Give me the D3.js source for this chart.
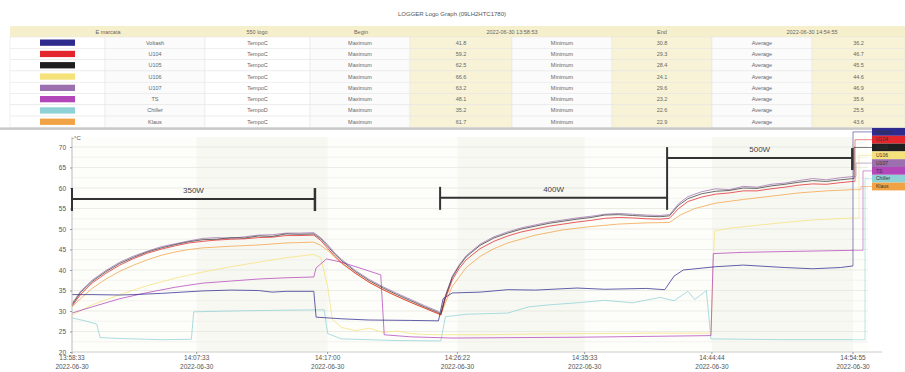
<!DOCTYPE html>
<html>
<head>
<meta charset="utf-8">
<script src="https://cdn.jsdelivr.net/npm/d3@7"></script>
<style>
  body { margin: 0; background: #fff; }
  svg { display: block; font-family: "Liberation Sans", Arial, sans-serif; }
</style>
</head>
<body>
<div id="chart"></div>
<script>
// ---- data ----
const chartTitle = 'LOGGER Logo Graph (09LH2HTC1780)';
const headerLabels = ['E marcata', '550 logo', 'Begin', '2022-06-30 13:58:53', 'End', '2022-06-30 14:54:55'];
const seriesNames = ['Voltash', 'U104', 'U105', 'U106', 'U107', 'TS', 'Chiller', 'Klaus'];
const seriesUnits = ['TempoC', 'TempoC', 'TempoC', 'TempoC', 'TempoC', 'TempoC', 'TempoD', 'TempoC'];
const maxValues = ['41.8', '59.2', '62.5', '66.6', '63.2', '48.1', '35.2', '61.7'];
const minValues = ['30.8', '29.3', '28.4', '24.1', '29.6', '23.2', '22.6', '22.9'];
const avgValues = ['36.2', '46.7', '45.5', '44.6', '46.9', '35.6', '25.5', '43.6'];
const seriesColors = ['#2f2b8e', '#e3262b', '#1f1f1f', '#f6e27a', '#9c70ae', '#b346b9', '#8fd2d5', '#f1a244'];

const dateDay = '2022-06-30';
const xTickTimes = ['13:58:33', '14:07:33', '14:17:00', '14:26:22', '14:35:33', '14:44:44', '14:54:55'];
const yTickValues = [20, 25, 30, 35, 40, 45, 50, 55, 60, 65, 70];

const powerLabels = ['350W', '400W', '500W'];
const powerStarts = ['13:58:33', '14:25:07', '14:41:30'];
const powerEnds = ['14:16:05', '14:41:30', '14:54:52'];
const powerLevels = [57.3, 57.6, 67.3];

const navyData = [
  ['13:58:33', 34.0], ['14:00:00', 34.0], ['14:02:00', 33.9], ['14:03:00', 34.0], ['14:05:00', 34.3],
  ['14:07:00', 34.7], ['14:08:00', 34.9], ['14:10:00', 35.1], ['14:12:00', 35.0], ['14:13:00', 34.6],
  ['14:14:00', 34.8], ['14:16:00', 34.8], ['14:16:10', 28.5], ['14:18:00', 28.1], ['14:20:00', 27.8],
  ['14:23:00', 27.7], ['14:25:00', 27.6], ['14:25:20', 33.0], ['14:26:00', 34.4], ['14:28:00', 34.6],
  ['14:30:00', 35.2], ['14:32:00', 35.1], ['14:35:00', 35.6], ['14:37:00', 35.3], ['14:40:00', 35.5],
  ['14:41:20', 35.2], ['14:42:00', 38.5], ['14:42:40', 40.0], ['14:45:00', 40.8], ['14:47:00', 41.2],
  ['14:50:00', 40.6], ['14:52:00', 40.3], ['14:54:00', 40.6], ['14:54:55', 41.0]
];
const redData = [
  ['13:58:33', 31.2], ['13:59:10', 34.0], ['14:00:00', 36.8], ['14:01:00', 39.2], ['14:02:00', 41.2],
  ['14:03:00', 42.8], ['14:04:00', 44.1], ['14:05:00', 45.1], ['14:06:00', 45.9], ['14:07:00', 46.6],
  ['14:08:00', 47.0], ['14:09:00', 47.3], ['14:10:00', 47.5], ['14:11:00', 47.6], ['14:12:00', 47.9],
  ['14:13:00', 48.0], ['14:14:00', 48.4], ['14:15:00', 48.4], ['14:16:00', 48.5], ['14:16:30', 47.2],
  ['14:17:00', 45.3], ['14:17:30', 43.4], ['14:18:00', 41.8], ['14:19:00', 39.2], ['14:20:00', 37.0],
  ['14:21:00', 35.2], ['14:22:00', 33.6], ['14:23:00', 32.1], ['14:24:00', 30.7], ['14:25:00', 29.3],
  ['14:25:10', 29.0], ['14:25:30', 33.0], ['14:26:00', 37.6], ['14:26:30', 40.4], ['14:27:00', 42.5],
  ['14:28:00', 45.2], ['14:29:00', 47.0], ['14:30:00', 48.3], ['14:31:00', 49.3], ['14:32:00', 50.0],
  ['14:33:00', 50.7], ['14:34:00', 51.2], ['14:35:00', 51.7], ['14:36:00', 52.1], ['14:37:00', 52.6],
  ['14:38:00', 52.8], ['14:39:00', 52.7], ['14:40:00', 52.5], ['14:41:00', 52.4], ['14:41:40', 52.6],
  ['14:42:20', 55.0], ['14:43:00', 56.7], ['14:44:00', 57.8], ['14:45:00', 58.5], ['14:46:00', 58.8],
  ['14:47:00', 59.3], ['14:48:00', 59.3], ['14:49:00', 59.8], ['14:50:00', 60.2], ['14:51:00', 60.7],
  ['14:52:00', 61.0], ['14:53:00', 60.9], ['14:54:00', 61.3], ['14:54:55', 61.6]
];
const blackData = [
  ['13:58:33', 31.5], ['13:59:10', 34.5], ['14:00:00', 37.2], ['14:01:00', 39.6], ['14:02:00', 41.6],
  ['14:03:00', 43.1], ['14:04:00', 44.4], ['14:05:00', 45.4], ['14:06:00', 46.2], ['14:07:00', 46.9],
  ['14:08:00', 47.4], ['14:09:00', 47.5], ['14:10:00', 47.9], ['14:11:00', 47.8], ['14:12:00', 48.3],
  ['14:13:00', 48.2], ['14:14:00', 48.8], ['14:15:00', 48.7], ['14:16:00', 48.8], ['14:16:30', 47.6],
  ['14:17:00', 45.8], ['14:17:30', 43.9], ['14:18:00', 42.3], ['14:19:00', 39.6], ['14:20:00', 37.4],
  ['14:21:00', 35.6], ['14:22:00', 34.0], ['14:23:00', 32.5], ['14:24:00', 31.0], ['14:25:00', 29.6],
  ['14:25:10', 29.2], ['14:25:30', 33.5], ['14:26:00', 38.2], ['14:26:30', 41.0], ['14:27:00', 43.2],
  ['14:28:00', 46.0], ['14:29:00', 47.8], ['14:30:00', 49.0], ['14:31:00', 50.0], ['14:32:00', 50.7],
  ['14:33:00', 51.4], ['14:34:00', 51.9], ['14:35:00', 52.4], ['14:36:00', 52.8], ['14:37:00', 53.4],
  ['14:38:00', 53.5], ['14:39:00', 53.3], ['14:40:00', 53.1], ['14:41:00', 53.0], ['14:41:40', 53.2],
  ['14:42:20', 55.8], ['14:43:00', 57.4], ['14:44:00', 58.6], ['14:45:00', 59.2], ['14:46:00', 59.4],
  ['14:47:00', 60.0], ['14:48:00', 59.9], ['14:49:00', 60.5], ['14:50:00', 60.9], ['14:51:00', 61.4],
  ['14:52:00', 61.8], ['14:53:00', 61.6], ['14:54:00', 62.0], ['14:54:55', 62.3]
];
const yellowData = [
  ['13:58:33', 29.0], ['14:00:00', 31.5], ['14:02:00', 34.0], ['14:04:00', 36.2], ['14:06:00', 38.0],
  ['14:08:00', 39.5], ['14:10:00', 40.8], ['14:12:00', 41.9], ['14:14:00', 43.0], ['14:16:00', 43.8],
  ['14:16:30', 43.0], ['14:17:00', 36.0], ['14:17:20', 28.0], ['14:18:00', 26.0], ['14:19:00', 25.2],
  ['14:20:00', 25.8], ['14:21:00', 24.8], ['14:22:00', 25.1], ['14:23:00', 24.5], ['14:24:00', 24.3],
  ['14:25:00', 24.2], ['14:28:00', 24.2], ['14:32:00', 24.4], ['14:36:00', 24.5], ['14:40:00', 24.6],
  ['14:44:40', 24.6], ['14:44:55', 49.5], ['14:46:00', 50.2], ['14:48:00', 50.9], ['14:50:00', 51.6],
  ['14:52:00', 52.2], ['14:54:55', 52.7]
];
const mauveData = [
  ['13:58:33', 31.8], ['13:59:10', 34.8], ['14:00:00', 37.5], ['14:01:00', 39.9], ['14:02:00', 41.9],
  ['14:03:00', 43.4], ['14:04:00', 44.6], ['14:05:00', 45.7], ['14:06:00', 46.4], ['14:07:00', 47.1],
  ['14:08:00', 47.7], ['14:09:00', 47.9], ['14:10:00', 47.7], ['14:11:00', 48.1], ['14:12:00', 48.5],
  ['14:13:00', 48.6], ['14:14:00', 49.0], ['14:15:00', 49.0], ['14:16:00', 49.1], ['14:16:30', 47.9],
  ['14:17:00', 46.2], ['14:17:30', 44.2], ['14:18:00', 42.6], ['14:19:00', 39.9], ['14:20:00', 37.7],
  ['14:21:00', 35.9], ['14:22:00', 34.3], ['14:23:00', 32.8], ['14:24:00', 31.3], ['14:25:00', 29.9],
  ['14:25:10', 29.5], ['14:25:30', 33.8], ['14:26:00', 38.5], ['14:26:30', 41.3], ['14:27:00', 43.5],
  ['14:28:00', 46.3], ['14:29:00', 48.1], ['14:30:00', 49.3], ['14:31:00', 50.3], ['14:32:00', 51.0],
  ['14:33:00', 51.7], ['14:34:00', 52.2], ['14:35:00', 52.7], ['14:36:00', 53.1], ['14:37:00', 53.6],
  ['14:38:00', 53.8], ['14:39:00', 53.6], ['14:40:00', 53.4], ['14:41:00', 53.3], ['14:41:40', 53.5],
  ['14:42:20', 56.2], ['14:43:00', 57.9], ['14:44:00', 59.1], ['14:45:00', 59.8], ['14:46:00', 59.6],
  ['14:47:00', 60.4], ['14:48:00', 60.2], ['14:49:00', 60.9], ['14:50:00', 61.2], ['14:51:00', 61.8],
  ['14:52:00', 62.3], ['14:53:00', 62.0], ['14:54:00', 62.5], ['14:54:55', 62.8]
];
const magentaData = [
  ['13:58:33', 29.5], ['14:00:00', 31.0], ['14:02:00', 33.0], ['14:04:00', 34.5], ['14:06:00', 35.8],
  ['14:08:00', 36.8], ['14:10:00', 37.3], ['14:12:00', 37.8], ['14:14:00', 38.1], ['14:16:00', 38.3],
  ['14:16:10', 40.5], ['14:16:55', 42.7], ['14:18:00', 41.9], ['14:19:30', 40.3], ['14:20:50', 38.8],
  ['14:21:05', 24.2], ['14:23:00', 23.7], ['14:26:00', 23.4], ['14:30:00', 23.5], ['14:35:00', 23.6],
  ['14:40:00', 23.8], ['14:44:40', 24.0], ['14:44:50', 44.0], ['14:47:00', 44.3], ['14:50:00', 44.5],
  ['14:54:55', 44.8]
];
const cyanData = [
  ['13:58:33', 28.3], ['13:59:30', 27.6], ['14:00:20', 26.8], ['14:00:35', 23.5], ['14:02:00', 23.3],
  ['14:05:00', 23.0], ['14:07:10', 23.1], ['14:07:20', 29.8], ['14:10:00', 30.0], ['14:14:00', 30.2],
  ['14:16:45', 30.3], ['14:17:00', 24.5], ['14:18:00', 23.2], ['14:22:00', 22.8], ['14:25:10', 22.7],
  ['14:25:30', 28.6], ['14:27:00', 29.2], ['14:30:00', 29.5], ['14:31:30', 31.0], ['14:33:00', 31.5],
  ['14:35:00', 32.0], ['14:37:00', 32.6], ['14:39:00', 32.0], ['14:41:00', 33.3], ['14:42:00', 32.5],
  ['14:43:00', 34.8], ['14:43:30', 32.8], ['14:44:20', 35.0], ['14:44:40', 23.2], ['14:50:00', 23.0],
  ['14:54:55', 23.0]
];
const orangeData = [
  ['13:58:33', 31.0], ['13:59:10', 33.0], ['14:00:00', 35.5], ['14:01:00', 37.8], ['14:02:00', 39.7],
  ['14:03:00', 41.2], ['14:04:00', 42.5], ['14:05:00', 43.6], ['14:06:00', 44.4], ['14:07:00', 45.0],
  ['14:08:00', 45.4], ['14:10:00', 45.8], ['14:12:00', 46.1], ['14:14:00', 46.6], ['14:16:00', 46.8],
  ['14:16:30', 46.0], ['14:17:00', 44.8], ['14:18:00', 41.6], ['14:19:00', 39.2], ['14:20:00', 37.0],
  ['14:21:00', 35.2], ['14:22:00', 33.6], ['14:23:00', 32.1], ['14:24:00', 30.7], ['14:25:00', 29.3],
  ['14:25:10', 29.0], ['14:25:30', 32.0], ['14:26:00', 36.0], ['14:27:00', 40.6], ['14:28:00', 43.3],
  ['14:29:00', 45.2], ['14:30:00', 46.6], ['14:32:00', 48.5], ['14:34:00', 49.8], ['14:36:00', 50.6],
  ['14:38:00', 51.2], ['14:40:00', 51.5], ['14:41:40', 51.6], ['14:42:30', 53.5], ['14:43:30', 55.0],
  ['14:45:00', 56.3], ['14:47:00', 57.2], ['14:49:00', 58.0], ['14:51:00', 58.8], ['14:53:00', 59.3],
  ['14:54:55', 59.6]
];
const seriesData = [navyData, redData, blackData, yellowData, mauveData, magentaData, cyanData, orangeData];

// ---- drawing ----
const width = 905, height = 372;
const parseTime = d3.timeParse('%Y-%m-%d %H:%M:%S');
const toDate = t => parseTime(`${dateDay} ${t}`);

const svg = d3.select('#chart').append('svg')
    .attr('width', width)
    .attr('height', height);

svg.append('text')
    .attr('x', 452).attr('y', 16)
    .attr('text-anchor', 'middle')
    .style('font-size', '6px').style('fill', '#555')
    .text(chartTitle);

// table
const colEdges = [10, 105, 205, 310, 410, 512, 612, 712, 812, 905];
const colFill = ['#fff', '#fbfbfb', '#fff', '#fbfbfb', '#f8f3d6', '#fbfbfb', '#f8f3d6', '#fbfbfb', '#f8f3d6'];
const tableTop = 26, headerH = 11, rowH = 11.3;
const table = svg.append('g').classed('table', true);
table.append('rect')
    .attr('x', colEdges[0]).attr('y', tableTop)
    .attr('width', colEdges[9] - colEdges[0]).attr('height', headerH)
    .style('fill', '#f6efcc');
seriesNames.forEach((name, i) => {
    const y0 = tableTop + headerH + i * rowH;
    colFill.forEach((f, c) => {
        table.append('rect')
            .attr('x', colEdges[c]).attr('y', y0)
            .attr('width', colEdges[c + 1] - colEdges[c]).attr('height', rowH)
            .style('fill', f).style('stroke', '#e4e4e4').style('stroke-width', 0.5);
    });
    table.append('rect')
        .attr('x', 40).attr('y', y0 + 2.5)
        .attr('width', 35).attr('height', rowH - 5)
        .style('fill', seriesColors[i]);
    const cells = [[1, name], [2, seriesUnits[i]], [3, 'Maximum'], [4, maxValues[i]],
        [5, 'Minimum'], [6, minValues[i]], [7, 'Average'], [8, avgValues[i]]];
    cells.forEach(([c, txt]) => {
        table.append('text')
            .attr('x', (colEdges[c] + colEdges[c + 1]) / 2)
            .attr('y', y0 + rowH / 2 + 2)
            .attr('text-anchor', 'middle')
            .style('font-size', '5.5px').style('fill', '#666')
            .text(txt);
    });
});
const headerX = [108, 257, 361, 512, 662, 812];
headerLabels.forEach((h, i) => {
    table.append('text')
        .attr('x', headerX[i]).attr('y', tableTop + 7.5)
        .attr('text-anchor', 'middle')
        .style('font-size', '5.5px').style('fill', '#666')
        .text(h);
});
const tableBottom = tableTop + headerH + seriesNames.length * rowH;
table.append('rect')
    .attr('x', 0).attr('y', tableBottom)
    .attr('width', width).attr('height', 2.5)
    .style('fill', '#c9c9c9');

// plot
const x = d3.scaleTime()
    .domain([toDate(xTickTimes[0]), toDate(xTickTimes[xTickTimes.length - 1])])
    .range([72, 853]);
const y = d3.scaleLinear().domain([20, 70]).range([352, 147]);
const plotRight = 868, plotTop = 137;

const plot = svg.append('g').classed('plot', true);
plot.append('rect')
    .attr('x', 72).attr('y', plotTop)
    .attr('width', plotRight - 72).attr('height', y(20) - plotTop)
    .style('fill', '#fdfdfa');
const tickDates = xTickTimes.map(toDate);
tickDates.slice(0, -1).forEach((d, i) => {
    if (i % 2 === 1) {
        plot.append('rect')
            .attr('x', x(d)).attr('y', plotTop)
            .attr('width', x(tickDates[i + 1]) - x(d)).attr('height', y(20) - plotTop)
            .style('fill', '#f8f8f3');
    }
});
plot.selectAll('.grid')
    .data(d3.range(22.5, 71, 2.5))
    .enter().append('line')
    .classed('grid', true)
    .attr('x1', 72).attr('x2', plotRight)
    .attr('y1', d => y(d)).attr('y2', d => y(d))
    .style('stroke', d => d % 5 === 0 ? '#e4e4dc' : '#eeeee8')
    .style('stroke-width', 0.7);

// y axis
const yAxis = svg.append('g')
    .attr('transform', 'translate(72,0)')
    .call(d3.axisLeft(y).tickValues(yTickValues).tickSize(2).tickPadding(4));
yAxis.select('.domain').attr('d', `M0,${plotTop}V${y(20)}`).style('stroke', '#bbb');
yAxis.selectAll('.tick line').style('stroke', '#999');
yAxis.selectAll('text').style('font-size', '6.5px').style('fill', '#555')
    .style('font-family', '"Liberation Sans", Arial, sans-serif');
svg.append('text')
    .attr('x', 72).attr('y', 140)
    .style('font-size', '6px').style('fill', '#555')
    .text('-°C');

// x axis
svg.append('line')
    .attr('x1', 72).attr('x2', 882)
    .attr('y1', y(20)).attr('y2', y(20))
    .style('stroke', '#ccc');
const xt = svg.selectAll('.xtick')
    .data(xTickTimes)
    .enter().append('g')
    .classed('xtick', true)
    .attr('transform', d => `translate(${x(toDate(d))},${y(20)})`);
xt.append('line').attr('y2', 2).style('stroke', '#999');
const xl = xt.append('text')
    .attr('text-anchor', 'middle')
    .style('font-size', '6.5px').style('fill', '#555');
xl.append('tspan').attr('x', 0).attr('y', 8).text(d => d);
xl.append('tspan').attr('x', 0).attr('y', 17).text(dateDay);

// series
const line = d3.line()
    .x(d => x(toDate(d[0])))
    .y(d => y(d[1]));
const drawOrder = [6, 3, 7, 5, 0, 4, 1, 2];
drawOrder.forEach(i => {
    plot.append('path')
        .attr('d', line(seriesData[i]))
        .style('fill', 'none')
        .style('stroke', seriesColors[i])
        .style('stroke-width', 1)
        .style('stroke-opacity', i === 2 ? 0.65 : 0.75);
});

// legend at the right, with connectors from the series ends
const legendX = 872, legendTop = 128, legendRowH = 7.8;
const connectorOffsets = [0, 2, 1, 6, 3, 10, 12, 8];
seriesData.forEach((data, i) => {
    const last = data[data.length - 1];
    const x0 = x(toDate(last[0])), y0 = y(last[1]);
    const ry = legendTop + legendRowH * (i + 0.5);
    const xc = x0 + connectorOffsets[i];
    plot.append('path')
        .attr('d', `M${x0},${y0}H${xc}V${ry}H${legendX}`)
        .style('fill', 'none')
        .style('stroke', seriesColors[i])
        .style('stroke-width', 0.8)
        .style('stroke-opacity', 0.7);
});
const legend = svg.append('g').classed('legend', true);
seriesNames.forEach((name, i) => {
    legend.append('rect')
        .attr('x', legendX).attr('y', legendTop + legendRowH * i)
        .attr('width', width - legendX).attr('height', legendRowH)
        .style('fill', seriesColors[i]);
    legend.append('text')
        .attr('x', legendX + 4).attr('y', legendTop + legendRowH * i + 5.5)
        .style('font-size', '5px').style('fill', '#333')
        .text(name);
});

// power brackets
const bracket = svg.append('g').classed('brackets', true);
powerLabels.forEach((lab, i) => {
    const xa = x(toDate(powerStarts[i])), xb = x(toDate(powerEnds[i]));
    const yb = y(powerLevels[i]);
    const capA = i === 2 ? [yb - 11, y(powerLevels[1]) + 12] : [yb - 11, yb + 12];
    const capB = i === 1 ? null : (i === 2 ? [yb - 10, yb + 12] : [yb - 11, yb + 12]);
    bracket.append('line')
        .attr('x1', xa).attr('x2', xb).attr('y1', yb).attr('y2', yb)
        .style('stroke', '#333').style('stroke-width', 2);
    bracket.append('line')
        .attr('x1', xa).attr('x2', xa).attr('y1', capA[0]).attr('y2', capA[1])
        .style('stroke', '#333').style('stroke-width', 2);
    if (capB) {
        bracket.append('line')
            .attr('x1', xb).attr('x2', xb).attr('y1', capB[0]).attr('y2', capB[1])
            .style('stroke', '#333').style('stroke-width', 2.5);
    }
    bracket.append('text')
        .attr('x', (xa + xb) / 2).attr('y', yb - 6)
        .attr('text-anchor', 'middle')
        .style('font-size', '8px').style('fill', '#444')
        .text(lab);
});
</script>
</body>
</html>
